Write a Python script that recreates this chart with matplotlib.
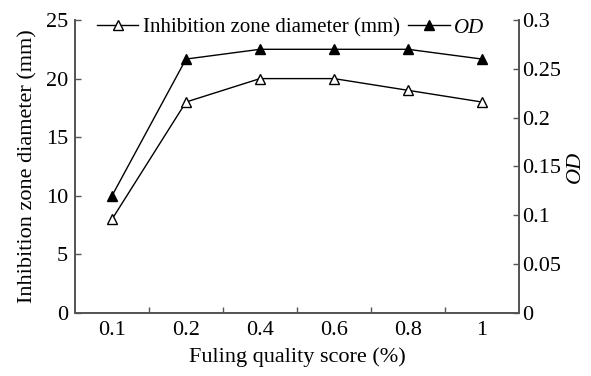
import matplotlib
matplotlib.use("Agg")
import matplotlib.pyplot as plt
from matplotlib.lines import Line2D

plt.rcParams['font.family'] = ['Liberation Serif', 'DejaVu Serif']

categories = ['0.1', '0.2', '0.4', '0.6', '0.8', '1']
inhibition = [8, 18, 20, 20, 19, 18]
od = [0.12, 0.26, 0.27, 0.27, 0.27, 0.26]
left_ticks = [0, 5, 10, 15, 20, 25]
right_ticks = [0, 0.05, 0.1, 0.15, 0.2, 0.25, 0.3]
right_labels = ['0', '0.05', '0.1', '0.15', '0.2', '0.25', '0.3']

fs = 16
fig = plt.figure(figsize=(5.91, 3.76), dpi=100)
ax = fig.add_axes([75/591, 63/376, 444/591, 293/376])
ax2 = ax.twinx()

x = list(range(len(categories)))
ax.plot(x, inhibition, color='black', lw=1.0, marker='^', ms=6.5,
        mfc='white', mec='black', mew=1.0, zorder=3)
ax2.plot(x, od, color='black', lw=1.0, marker='^', ms=6.5,
         mfc='black', mec='black', zorder=3)

ax.set_xlim(-0.5, len(categories) - 0.5)
ax.set_ylim(0, 25)
ax2.set_ylim(0, 0.3)

ax.set_yticks(left_ticks)
ax.set_yticklabels([str(t) for t in left_ticks], fontsize=fs)
ax2.set_yticks(right_ticks)
ax2.set_yticklabels(right_labels, fontsize=fs)

ax.set_xticks(x)
ax.set_xticklabels(categories, fontsize=fs)
ax.tick_params(axis='x', which='major', length=0, pad=6)
ax.set_xticks([i + 0.5 for i in x[:-1]], minor=True)
ax.tick_params(axis='x', which='minor', direction='in', length=4, width=1, color='#555555')
ax.tick_params(axis='y', direction='in', length=4, width=1, color='#555555', pad=5)
ax2.tick_params(axis='y', direction='in', length=4, width=1, color='#555555', pad=2)

for a in (ax, ax2):
    a.spines['top'].set_visible(False)
    for s in ('left', 'right', 'bottom'):
        a.spines[s].set_color('#555555')
        a.spines[s].set_linewidth(1.3)

ax.set_xlabel('Fuling quality score (%)', fontsize=fs, labelpad=5)
ax.set_ylabel('Inhibition zone diameter (mm)', fontsize=fs, labelpad=6)
ax2.set_ylabel('OD', fontsize=fs, style='italic', labelpad=4)

h1 = Line2D([], [], color='black', lw=1.0, marker='^', ms=6.5, mfc='white', mec='black')
h2 = Line2D([], [], color='black', lw=1.0, marker='^', ms=6.5, mfc='black', mec='black')
leg = ax.legend([h1, h2], ['Inhibition zone diameter (mm)', 'OD'], loc='upper center',
                bbox_to_anchor=(0.485, 1.035), ncol=2, frameon=False, fontsize=15,
                handlelength=2.0, handletextpad=0.2, columnspacing=0.4,
                borderaxespad=0.0)
leg.get_texts()[1].set_style('italic')

fig.savefig('out.png', dpi=100)
